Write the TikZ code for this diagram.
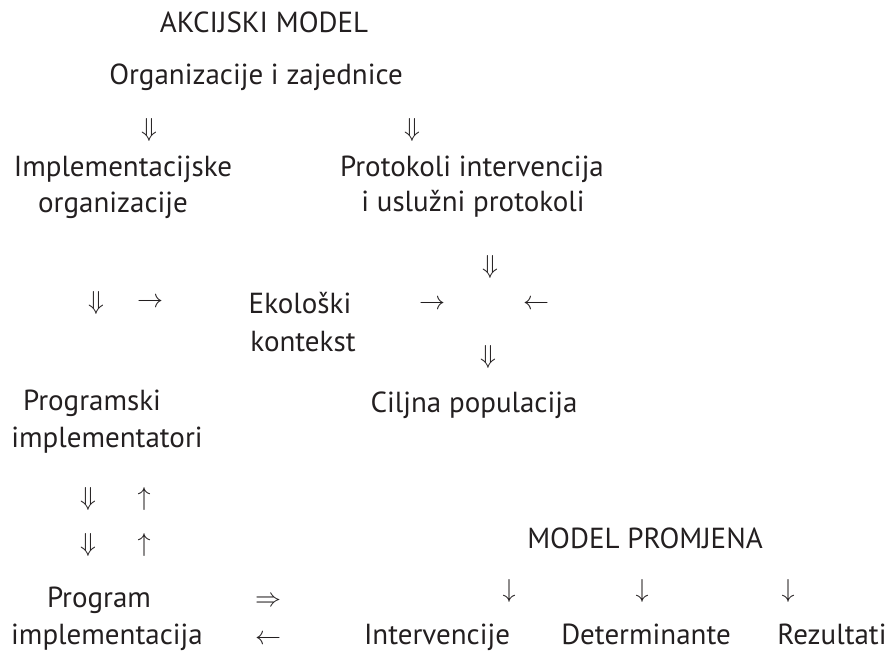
\documentclass[tikz,border=0pt]{standalone}
\usepackage{fix-cm}
\usepackage{fontspec}
\setmainfont{PT Sans}
\definecolor{ink}{HTML}{231F20}
\tikzset{
  lbl/.style={anchor=base, inner sep=0pt, text=ink, font=\fontsize{29}{33}\selectfont},
  arr/.style={anchor=center, inner sep=0pt, text=ink, font=\fontsize{26}{30}\selectfont}
}
\begin{document}
\begin{tikzpicture}[x=1pt,y=-1pt]
\useasboundingbox (0,0) rectangle (894,652);
\node[lbl] (title) at (264,33) {AKCIJSKI MODEL};
\node[lbl] (org) at (256,85) {Organizacije i zajednice};
\node[arr] (a1) at (149,130) {$\Downarrow$};
\node[arr] (a2) at (412,130) {$\Downarrow$};
\node[lbl] (impl1) at (123,177) {Implementacijske};
\node[lbl] (impl2) at (113,213) {organizacije};
\node[lbl] (prot1) at (472,177) {Protokoli intervencija};
\node[lbl] (prot2) at (473,212) {i uslužni protokoli};
\node[arr] (a3) at (490,267) {$\Downarrow$};
\node[arr] (a4) at (96,303) {$\Downarrow$};
\node[arr] (a5) at (150,303) {$\rightarrow$};
\node[lbl] (eko1) at (300,313) {Ekološki};
\node[lbl] (eko2) at (303,351) {kontekst};
\node[arr] (a6) at (432,305) {$\rightarrow$};
\node[arr] (a7) at (536,305) {$\leftarrow$};
\node[arr] (a8) at (488,357) {$\Downarrow$};
\node[lbl] (prog1) at (92,410) {Programski};
\node[lbl] (prog2) at (107,447) {implementatori};
\node[lbl] (cilj) at (474,412) {Ciljna populacija};
\node[arr] (a9) at (88,499) {$\Downarrow$};
\node[arr] (a10) at (144,499) {$\uparrow$};
\node[arr] (a11) at (88,545) {$\Downarrow$};
\node[arr] (a12) at (144,545) {$\uparrow$};
\node[lbl] (mp) at (645,548) {MODEL PROMJENA};
\node[lbl] (pi1) at (99,607) {Program};
\node[arr] (a13) at (268,602) {$\Rightarrow$};
\node[arr] (a14) at (509,591) {$\downarrow$};
\node[arr] (a15) at (642,591) {$\downarrow$};
\node[arr] (a16) at (788,591) {$\downarrow$};
\node[lbl] (pi2) at (107,644) {implementacija};
\node[arr] (a17) at (268,640) {$\leftarrow$};
\node[lbl] (int) at (437,644) {Intervencije};
\node[lbl] (det) at (646,644) {Determinante};
\node[lbl] (rez) at (832,644) {Rezultati};
\end{tikzpicture}
\end{document}
